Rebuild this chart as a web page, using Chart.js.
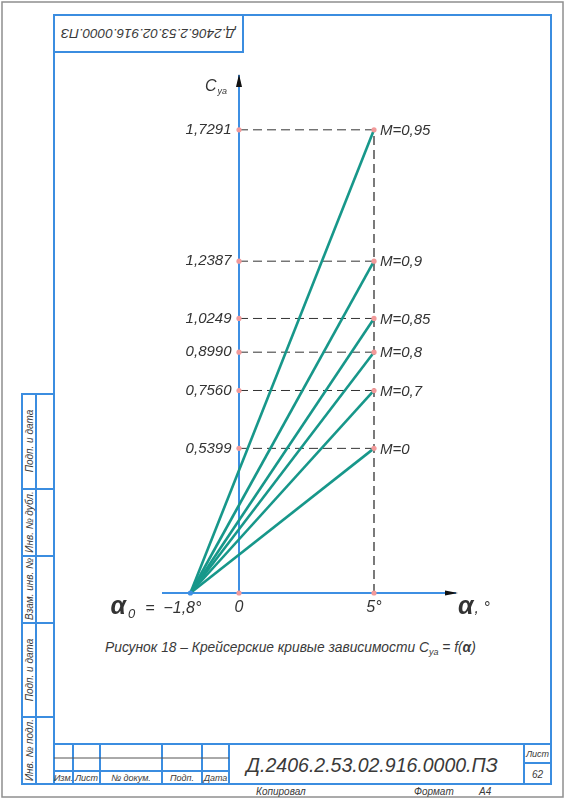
<!DOCTYPE html>
<html>
<head>
<meta charset="utf-8">
<script src="https://cdn.jsdelivr.net/npm/chart.js@4.4.1/dist/chart.umd.min.js"></script>
<style>
  html, body { margin: 0; padding: 0; background: #fff; }
  #page { position: relative; width: 566px; height: 800px; overflow: hidden; }
  #sheet, #chart { position: absolute; left: 0; top: 0; }
  svg text { font-family: 'Liberation Sans', Arial, sans-serif; font-style: italic; fill: #3a3a3a; }
</style>
</head>
<body>
<div id="page">
<svg id="sheet" width="566" height="800">
  <!-- sheet border + drawing frame -->
  <rect x="2" y="2" width="561" height="795" fill="#fff" stroke="#8f8f8f" stroke-width="1.5"/>
  <g stroke="#3b8de0" stroke-width="2" fill="none">
    <rect x="54" y="15" width="497" height="769"/>
    <rect x="54" y="15" width="189" height="37"/>
    <rect x="22" y="394" width="32" height="390"/>
    <line x1="36" y1="394" x2="36" y2="784"/>
    <line x1="22" y1="489" x2="54" y2="489"/>
    <line x1="22" y1="556" x2="54" y2="556"/>
    <line x1="22" y1="623" x2="54" y2="623"/>
    <line x1="22" y1="717" x2="54" y2="717"/>
    <!-- title block -->
    <line x1="54" y1="744" x2="551" y2="744"/>
    <line x1="73" y1="744" x2="73" y2="784"/>
    <line x1="100" y1="744" x2="100" y2="784"/>
    <line x1="162" y1="744" x2="162" y2="784"/>
    <line x1="202" y1="744" x2="202" y2="784"/>
    <line x1="229" y1="744" x2="229" y2="784"/>
    <line x1="524" y1="744" x2="524" y2="784"/>
    <line x1="524" y1="763" x2="551" y2="763"/>
    <line x1="54" y1="771" x2="229" y2="771"/>
  </g>
  <line x1="54" y1="758" x2="229" y2="758" stroke="#555" stroke-width="1"/>

  <text x="148" y="33" font-size="13.5" text-anchor="middle" dominant-baseline="middle" transform="rotate(180 148 33)">Д.2406.2.53.02.916.0000.ПЗ</text>

  <g font-size="10" text-anchor="middle">
    <text transform="translate(32.5 441) rotate(-90)">Подп. и дата</text>
    <text transform="translate(32.5 522) rotate(-90)">Инв. № дубл.</text>
    <text transform="translate(32.5 589) rotate(-90)">Взам. инв. №</text>
    <text transform="translate(32.5 670) rotate(-90)">Подп. и дата</text>
    <text transform="translate(32.5 750) rotate(-90)">Инв. № подл.</text>
  </g>

  <g font-size="9" text-anchor="middle">
    <text x="63.5" y="781">Изм.</text>
    <text x="86.5" y="781">Лист</text>
    <text x="131" y="781">№ докум.</text>
    <text x="182" y="781">Подп.</text>
    <text x="215.5" y="781">Дата</text>
    <text x="537.5" y="757">Лист</text>
    <text x="537.5" y="778" font-size="10">62</text>
  </g>
  <text x="372" y="772" font-size="19.5" text-anchor="middle">Д.2406.2.53.02.916.0000.ПЗ</text>
  <g font-size="10">
    <text x="256" y="795">Копировал</text>
    <text x="414" y="795">Формат</text>
    <text x="479" y="795">А4</text>
  </g>

  <text x="105" y="652" font-size="13.8">Рисунок 18 – Крейсерские кривые зависимости C<tspan font-size="9" dy="3">ya</tspan><tspan dy="-3"> = f(</tspan><tspan font-weight="bold">α</tspan>)</text>
</svg>
<canvas id="chart" width="566" height="800"></canvas>
</div>
<script>
// cruise curves Cya = f(alpha) for several Mach numbers
const machNumbers = ['0', '0,7', '0,8', '0,85', '0,9', '0,95'];
const cyaValues = [0.5399, 0.7560, 0.8990, 1.0249, 1.2387, 1.7291];
const cyaTickLabels = ['0,5399', '0,7560', '0,8990', '1,0249', '1,2387', '1,7291'];
const alphaZero = -1.8;
const alphaPoint = 5;
const alphaTicks = [0, 5];
const alphaTickLabels = ['0', '5°'];

const FONT = "'Liberation Sans', Arial, sans-serif";
const TEAL = '#17978a';
const AXIS_BLUE = '#3d8fe3';
const MARK = '#f29a9a';
const TEXT = '#333';

// curves from alpha0 to the point at 5 deg
const curveSets = cyaValues.map((v, i) => ({
    label: 'M=' + machNumbers[i],
    data: [{ x: alphaZero, y: 0 }, { x: alphaPoint, y: v }],
    showLine: true,
    borderColor: TEAL,
    borderWidth: 2.6,
    pointRadius: 0,
    clip: false,
    order: 1,
}));

// dashed guides
const guideSets = cyaValues.map(v => ({
    data: [{ x: 0, y: v }, { x: alphaPoint, y: v }],
    showLine: true,
    borderColor: '#333',
    borderWidth: 1,
    borderDash: [9, 5],
    pointRadius: 0,
    clip: false,
    order: 2,
}));
guideSets.push({
    data: [{ x: alphaPoint, y: 0 }, { x: alphaPoint, y: Math.max(...cyaValues) }],
    showLine: true,
    borderColor: '#333',
    borderWidth: 1.3,
    borderDash: [9, 5],
    pointRadius: 0,
    clip: false,
    order: 2,
});

const markerSet = {
    data: [0, ...cyaValues].flatMap(v => [{ x: 0, y: v }, { x: alphaPoint, y: v }]),
    showLine: false,
    pointRadius: 2.6,
    pointBackgroundColor: MARK,
    pointBorderWidth: 0,
    clip: false,
    order: 0,
};
const zeroSet = {
    data: [{ x: alphaZero, y: 0 }],
    showLine: false,
    pointRadius: 2.6,
    pointBackgroundColor: AXIS_BLUE,
    pointBorderWidth: 0,
    clip: false,
    order: 0,
};

// arrows and free labels
const sketchLabels = {
    id: 'sketchLabels',
    afterDraw(chart) {
        const { ctx, scales: { x, y } } = chart;
        const x0 = x.getPixelForValue(0);
        const y0 = y.getPixelForValue(0);
        const top = y.getPixelForValue(y.max);
        const right = x.getPixelForValue(x.max);
        const x5 = x.getPixelForValue(alphaPoint);
        ctx.save();

        ctx.fillStyle = '#111';
        ctx.beginPath();
        ctx.moveTo(x0, top - 2);
        ctx.lineTo(x0 - 3, top + 11);
        ctx.lineTo(x0 + 3, top + 11);
        ctx.closePath();
        ctx.fill();
        ctx.beginPath();
        ctx.moveTo(right + 3, y0);
        ctx.lineTo(right - 10, y0 - 2.5);
        ctx.lineTo(right - 10, y0 + 2.5);
        ctx.closePath();
        ctx.fill();

        ctx.fillStyle = TEXT;
        ctx.textAlign = 'left';
        ctx.textBaseline = 'middle';
        ctx.font = `italic 15px ${FONT}`;
        cyaValues.forEach((v, i) => {
            ctx.fillText('M=' + machNumbers[i], x5 + 6, y.getPixelForValue(v) + 1);
        });

        // Cya
        ctx.textBaseline = 'alphabetic';
        ctx.font = `italic 16px ${FONT}`;
        ctx.fillText('C', x0 - 34, top + 15);
        const cw = ctx.measureText('C').width;
        ctx.font = `italic 9px ${FONT}`;
        ctx.fillText('ya', x0 - 34 + cw + 1, top + 18);

        // alpha0 = -1,8°
        const base = y0 + 21;
        let px = x.getPixelForValue(alphaZero) + 11;
        ctx.textAlign = 'right';
        ctx.font = `italic 16px ${FONT}`;
        const tail = '=  −1,8°';
        ctx.fillText(tail, px, base - 1);
        px -= ctx.measureText(tail).width + 10;
        ctx.font = `italic 13px ${FONT}`;
        ctx.fillText('0', px, base + 4);
        px -= ctx.measureText('0').width + 2;
        ctx.font = `bold italic 25px ${FONT}`;
        ctx.fillText('α', px, base);

        // alpha, °
        ctx.textAlign = 'left';
        ctx.font = `bold italic 25px ${FONT}`;
        ctx.fillText('α', right + 3, base);
        const aw = ctx.measureText('α').width;
        ctx.font = `italic 16px ${FONT}`;
        ctx.fillText(', °', right + 4 + aw, base - 1);

        ctx.restore();
    },
};

new Chart(document.getElementById('chart'), {
    type: 'scatter',
    data: { datasets: [markerSet, zeroSet, ...curveSets, ...guideSets] },
    options: {
        responsive: false,
        animation: false,
        devicePixelRatio: 1,
        layout: { padding: { left: 163.4, right: 111, top: 76, bottom: 207 } },
        plugins: { legend: { display: false }, tooltip: { enabled: false } },
        scales: {
            x: {
                type: 'linear',
                min: -2.8,
                max: 8,
                position: { y: 0 },
                grid: { display: false, drawTicks: false },
                border: { display: true, color: AXIS_BLUE, width: 2 },
                afterBuildTicks: axis => { axis.ticks = alphaTicks.map(v => ({ value: v })); },
                ticks: {
                    autoSkip: false,
                    maxRotation: 0,
                    padding: 5,
                    color: TEXT,
                    font: { family: FONT, size: 16, style: 'italic' },
                    callback: (val, i) => alphaTickLabels[i],
                },
            },
            y: {
                type: 'linear',
                min: 0,
                max: 1.93,
                position: { x: 0 },
                grid: { display: false, drawTicks: false },
                border: { display: true, color: AXIS_BLUE, width: 2 },
                afterBuildTicks: axis => { axis.ticks = cyaValues.map(v => ({ value: v })); },
                ticks: {
                    autoSkip: false,
                    color: TEXT,
                    font: { family: FONT, size: 15, style: 'italic' },
                    callback: (val, i) => cyaTickLabels[i] + '\u2002',
                },
            },
        },
    },
    plugins: [sketchLabels],
});
</script>
</body>
</html>
